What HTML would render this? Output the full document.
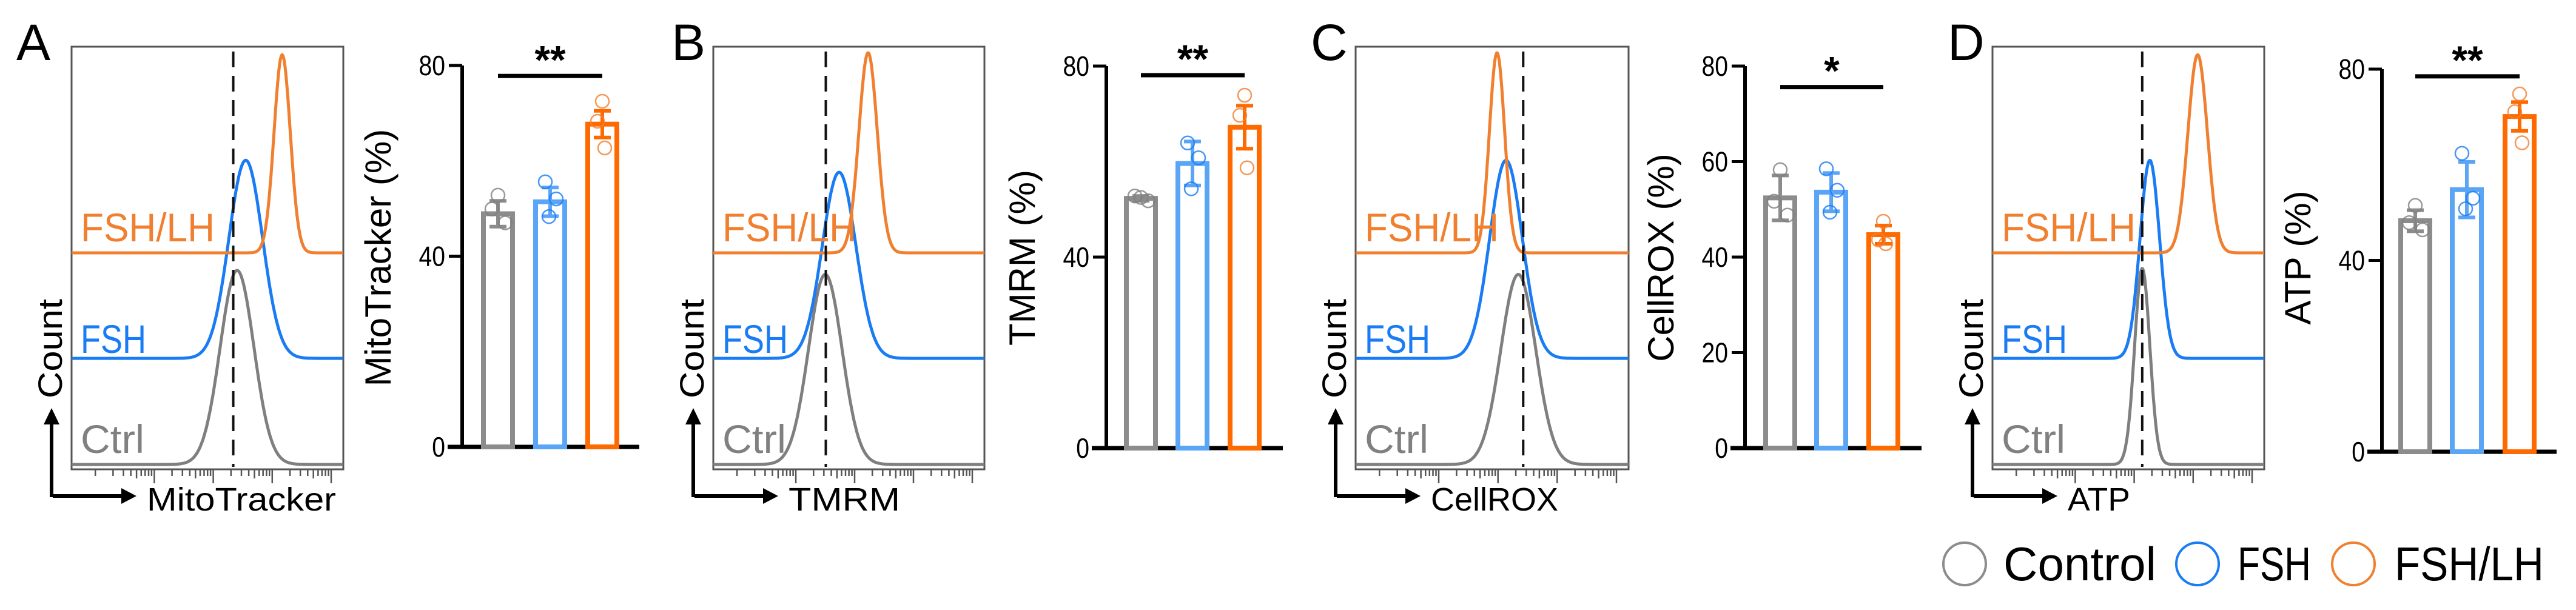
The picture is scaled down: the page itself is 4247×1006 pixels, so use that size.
<!DOCTYPE html>
<html><head><meta charset="utf-8"><style>
html,body{margin:0;padding:0;background:#fff;}
svg{display:block;font-family:"Liberation Sans",sans-serif;}
</style></head><body>
<svg id="fig" width="4247" height="1006" viewBox="0 0 4247 1006" xmlns="http://www.w3.org/2000/svg">
<g>
  <circle cx="3239" cy="930" r="35" fill="none" stroke="#8c8c8c" stroke-width="4"/>
  <text x="3303" y="957" font-size="78" textLength="252" lengthAdjust="spacingAndGlyphs">Control</text>
  <circle cx="3623" cy="930" r="35" fill="none" stroke="#1a7cf5" stroke-width="4"/>
  <text x="3689" y="957" font-size="78" textLength="121" lengthAdjust="spacingAndGlyphs">FSH</text>
  <circle cx="3880" cy="930" r="35" fill="none" stroke="#f08030" stroke-width="4"/>
  <text x="3948" y="957" font-size="78" textLength="246" lengthAdjust="spacingAndGlyphs">FSH/LH</text>
</g>
</svg>
<script>
// ---- data ----
const panelLetters = ["A","B","C","D"];
const markers = ["MitoTracker","TMRM","CellROX","ATP"];
const groups = ["Control","FSH","FSH/LH"];
// histogram peak centers (fraction of log axis), widths, heights (fraction of full scale)
const histCenterGray   = [0.609, 0.413, 0.596, 0.551];
const histCenterBlue   = [0.641, 0.464, 0.551, 0.579];
const histCenterOrange = [0.775, 0.571, 0.518, 0.755];
const histWidthGray    = [0.062, 0.062, 0.064, 0.028];
const histWidthBlue    = [0.062, 0.062, 0.060, 0.036];
const histWidthOrange  = [0.030, 0.034, 0.028, 0.036];
const histHeightGray   = [0.97, 0.95, 0.95, 0.98];
const histHeightBlue   = [0.99, 0.93, 0.99, 0.99];
const histHeightOrange = [0.99, 1.00, 1.00, 0.99];
const gateLine         = [0.595, 0.415, 0.614, 0.551];
// bar means, SD, replicate points
const meanGray   = [48.9, 52.3, 52.4, 48.3];
const meanBlue   = [51.4, 59.6, 53.6, 54.8];
const meanOrange = [67.7, 67.2, 44.7, 70.1];
const sdGray   = [2.7, 0.5, 4.7, 2.2];
const sdBlue   = [3.0, 4.6, 4.0, 5.8];
const sdOrange = [2.8, 4.5, 1.9, 3.0];
const ptsGray   = [[52.8,49.9,47.0],[52.5,52.8,51.8],[58.3,51.7,48.8],[51.5,47.9,46.4]];
const ptsBlue   = [[55.6,52.0,48.3],[63.9,60.8,54.3],[58.5,54.0,49.4],[62.4,53.0,50.8]];
const ptsOrange = [[72.5,68.3,62.7],[73.9,69.7,58.7],[47.5,43.6,42.8],[74.8,71.1,64.6]];
const yTicks = [[0,40,80],[0,40,80],[0,20,40,60,80],[0,40,80]];
const yMax = [80,80,80,80];
const sigLabels = ["**","**","*","**"];
const sigLevel = [77.8, 78.1, 75.6, 78.5];

// ---- layout ----
const L = [
 {bx:118, bx1:566, ax:762, y0:737, yT:108, xe:1054, bars:[821,907,993], letterX:27},
 {bx:1176,bx1:1623,ax:1824,y0:739, yT:109, xe:2115, bars:[1881,1966,2052], letterX:1107},
 {bx:2235,bx1:2685,ax:2877,y0:739, yT:109, xe:3168, bars:[2935,3019,3105], letterX:2161},
 {bx:3285,bx1:3733,ax:3927,y0:745, yT:114, xe:4215, bars:[3982,4067,4154], letterX:3211}
];
const boxTop=77, boxBot=774, bases=[766,591,417], fullH=330;
const histCol=["#7f7f7f","#1a7cf5","#f08030"];
const barCol=["#8c8c8c","#5aa5f5","#ff6a00"];
const NS="http://www.w3.org/2000/svg";
const svg=document.getElementById('fig');
function mk(tag,attrs,parent){const e=document.createElementNS(NS,tag);for(const k in attrs)e.setAttribute(k,attrs[k]);(parent||svg).appendChild(e);return e;}

for(let p=0;p<4;p++){
  const c=L[p];
  const g=mk('g',{});
  
  
  const lt=mk('text',{x:c.letterX,y:99,'font-size':84},g);
  
  
  lt.textContent=panelLetters[p];
  // histogram
  const hx=v=>c.bx+v*(c.bx1-c.bx);
  const box=mk('rect',{x:c.bx,y:boxTop,width:c.bx1-c.bx,height:boxBot-boxTop,fill:'none',stroke:'#555','stroke-width':3},g);
  
  
  const cen=[histCenterGray[p],histCenterBlue[p],histCenterOrange[p]];
  const wid=[histWidthGray[p],histWidthBlue[p],histWidthOrange[p]];
  const hei=[histHeightGray[p],histHeightBlue[p],histHeightOrange[p]];
  const names=['ctrl','fsh','fshlh'];
  for(let s=0;s<3;s++){
    let d='';
    for(let i=0;i<=400;i++){
      const v=i/400, z=(v-cen[s])/wid[s];
      const y=bases[s]-fullH*hei[s]*Math.exp(-0.5*z*z);
      d+=(i?'L':'M')+hx(v).toFixed(1)+' '+y.toFixed(1);
    }
    const path=mk('path',{d:d,fill:'none',stroke:histCol[s],'stroke-width':5,'stroke-linejoin':'round'},g);
    
    
  }
  const gl=mk('line',{x1:hx(gateLine[p]),x2:hx(gateLine[p]),y1:boxTop+8,y2:boxBot-4,stroke:'#111','stroke-width':4,'stroke-dasharray':'26 14'},g);
  
  
  // histogram labels
  const lab=[['Ctrl',747,105,'#808080'],['FSH',582,108,'#1a7cf5'],['FSH/LH',398,221,'#f08030']];
  for(let s=0;s<3;s++){
    const t=mk('text',{x:c.bx+15,y:lab[s][1],'font-size':66,fill:lab[s][3],textLength:lab[s][2],lengthAdjust:'spacingAndGlyphs'},g);
    
    
    t.textContent=lab[s][0];
  }
  // log ticks
  let td='';
  for(let dec=0;dec<4;dec++){
    const w=(c.bx1-c.bx-30)/4.3;
    const x0=c.bx+10+w*(dec+0.3);
    for(let k=1;k<=10;k++){
      const x=x0+Math.log10(k)*w;
      const len=(k===10)?22:(k===5?14:10);
      td+='M'+x.toFixed(1)+' '+(boxBot+1)+'v'+len;
    }
  }
  const tk=mk('path',{d:td,stroke:'#555','stroke-width':2.5,fill:'none'},g);
  
  
  // axis arrows
  const ax=c.bx-33;
  const arr=mk('path',{d:`M${ax} 820V695M${ax+2} 818H${c.bx+85}`,stroke:'#000','stroke-width':6,fill:'none'},g);
  
  
  const ah=mk('path',{d:`M${ax-13} 700L${ax} 673L${ax+13} 700ZM${c.bx+82} 805L${c.bx+107} 818L${c.bx+82} 831Z`,fill:'#000'},g);
  
  
  const ct=mk('text',{x:0,y:0,'font-size':56,transform:`translate(${c.bx-16},657) rotate(-90)`,textLength:164,lengthAdjust:'spacingAndGlyphs'},g);
  
  
  ct.textContent='Count';
  const widths=[312,184,210,103];
  const xl=mk('text',{x:c.bx+124,y:842,'font-size':54,textLength:widths[p],lengthAdjust:'spacingAndGlyphs'},g);
  
  
  xl.textContent=markers[p];
  // bar chart
  const yS=v=>c.y0-(v/yMax[p])*(c.y0-c.yT);
  const yax=mk('path',{d:`M${c.ax} ${c.y0}V${c.yT}`,stroke:'#000','stroke-width':6,fill:'none'},g);
  
  
  for(const t of yTicks[p]){
    if(t!==0){
      const tl=mk('line',{x1:c.ax-22,x2:c.ax,y1:yS(t),y2:yS(t),stroke:'#000','stroke-width':5},g);
      
      
    }
    const tt=mk('text',{x:c.ax-28,y:yS(t)+16,'font-size':46,'text-anchor':'end',transform:`translate(${c.ax-28} 0) scale(0.85 1) translate(${-(c.ax-28)} 0)`},g);
    
    
    tt.textContent=String(t);
  }
  const xax=mk('line',{x1:c.ax-24,x2:c.xe,y1:c.y0,y2:c.y0,stroke:'#000','stroke-width':7},g);
  
  
  const yl=mk('text',{x:0,y:0,'font-size':60,'text-anchor':'middle',transform:`translate(${c.ax-118},425) rotate(-90)`},g);
  
  
  yl.textContent=markers[p]+' (%)';
  const means=[meanGray[p],meanBlue[p],meanOrange[p]];
  const sds=[sdGray[p],sdBlue[p],sdOrange[p]];
  const pts=[ptsGray[p],ptsBlue[p],ptsOrange[p]];
  const jit=[[0,-10,12],[-8,10,-2],[0,-8,4]];
  for(let s=0;s<3;s++){
    const cx=c.bars[s], bw=48;
    const b=mk('rect',{x:cx-bw/2,y:yS(means[s]),width:bw,height:c.y0-yS(means[s]),fill:'none',stroke:barCol[s],'stroke-width':8},g);
    
    
    const hi=yS(means[s]+sds[s]), lo=yS(means[s]-sds[s]);
    const eb=mk('path',{d:`M${cx} ${hi}V${lo}M${cx-14} ${hi}h28M${cx-14} ${lo}h28`,stroke:barCol[s],'stroke-width':6,fill:'none'},g);
    
    
    for(let k=0;k<3;k++){
      const dot=mk('circle',{cx:cx+jit[s][k],cy:yS(pts[s][k]),r:11,fill:'none',stroke:histCol[s],'stroke-width':2.5,'stroke-opacity':0.8},g);
      
      
    }
  }
  const sy=yS(sigLevel[p]);
  const sl=mk('line',{x1:c.bars[0],x2:c.bars[2],y1:sy,y2:sy,stroke:'#000','stroke-width':7},g);
  
  
  const st=mk('text',{x:(c.bars[0]+c.bars[2])/2,y:sy-4,'font-size':66,'font-weight':'bold','text-anchor':'middle'},g);
  
  
  st.textContent=sigLabels[p];
}
</script>
</body></html>
